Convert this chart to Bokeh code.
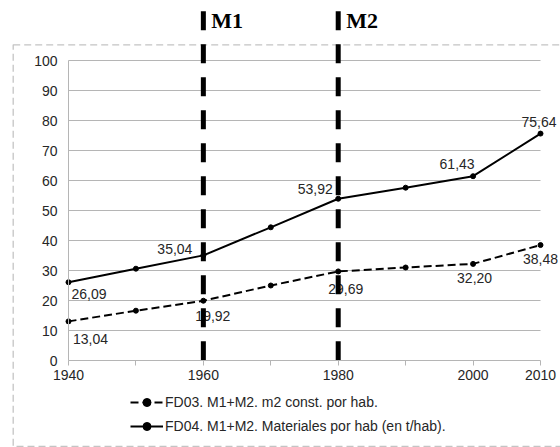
from bokeh.plotting import figure
from bokeh.models import Range1d, FixedTicker, ColumnDataSource, Legend, LegendItem
from bokeh.core.properties import value
from bokeh.embed import file_html
from bokeh.resources import INLINE

# ---------------- data ----------------
years = [1940, 1950, 1960, 1970, 1980, 1990, 2000, 2010]
fd03 = [13.04, 16.6, 19.92, 25.0, 29.69, 31.0, 32.20, 38.48]
fd04 = [26.09, 30.6, 35.04, 44.4, 53.92, 57.6, 61.43, 75.64]
fd03_name = "FD03. M1+M2. m2 const. por hab."
fd04_name = "FD04. M1+M2. Materiales por hab (en t/hab)."
x_tick_labels = ["1940", "", "1960", "", "1980", "", "2000", "2010"]
y_ticks = [0, 10, 20, 30, 40, 50, 60, 70, 80, 90, 100]
milestones = [1960, 1980]
milestone_names = ["M1", "M2"]
labeled_years = [1940, 1960, 1980, 2000, 2010]

# ---------------- geometry / style ----------------
W, H = 560, 447
# plot area (page px): x 68..540, y 60..360
sx = (540 - 68) / (years[-1] - years[0])
sy = (360 - 60) / (y_ticks[-1] - y_ticks[0])
x_start = years[0] - 68 / sx
x_end = x_start + W / sx
y_end = y_ticks[-1] + 60 / sy
y_start = y_end - H / sy


def px_x(page_x):
    return x_start + page_x / sx


def px_y(page_y):
    return y_end - page_y / sy


GRID = "#b5b5b5"
TXT = "#262626"
FONT = value("Liberation Sans")
FS = "14px"

p = figure(width=W, height=H, x_range=Range1d(x_start, x_end),
           y_range=Range1d(y_start, y_end), output_backend="svg",
           toolbar_location=None, min_border=0, min_border_left=0,
           min_border_right=0, min_border_top=0, min_border_bottom=0)
p.outline_line_color = None
p.xgrid.visible = False
p.ygrid.visible = False
p.background_fill_color = "white"
p.border_fill_color = "white"

# outer dashed frame
p.quad(left=[px_x(12.7)], right=[px_x(620)], top=[px_y(44.3)], bottom=[px_y(446)],
       fill_alpha=0, line_color="#c4c4c4", line_width=1.3, line_dash="7 4")

# axes placed at fixed data locations
xa = p.xaxis[0]
xa.fixed_location = y_ticks[0]
xa.bounds = (years[0], years[-1])
xa.ticker = FixedTicker(ticks=years)
xa.major_label_overrides = {yr: lab for yr, lab in zip(years, x_tick_labels)}
xa.minor_tick_line_color = None
xa.major_tick_in = 0
xa.major_tick_out = 5
xa.major_tick_line_color = GRID
xa.axis_line_color = GRID
xa.major_label_standoff = 4
xa.major_label_text_font = "Liberation Sans"
xa.major_label_text_font_size = FS
xa.major_label_text_color = TXT

ya = p.yaxis[0]
ya.fixed_location = years[0]
ya.bounds = (y_ticks[0], y_ticks[-1])
ya.ticker = FixedTicker(ticks=y_ticks)
ya.minor_tick_line_color = None
ya.major_tick_in = 0
ya.major_tick_out = 0
ya.axis_line_color = GRID
ya.major_label_standoff = 11
ya.major_label_text_font = "Liberation Sans"
ya.major_label_text_font_size = FS
ya.major_label_text_color = TXT

# horizontal gridlines
g = y_ticks[1:]
p.segment(x0=[years[0]] * len(g), x1=[years[-1]] * len(g), y0=g, y1=g,
          line_color=GRID, line_width=1)

# series
l3 = p.line(years, fd03, line_color="black", line_width=2, line_dash="8 4")
s3 = p.scatter(years, fd03, size=5, color="black")
l4 = p.line(years, fd04, line_color="black", line_width=2)
s4 = p.scatter(years, fd04, size=5, color="black")

# data labels
fmt = lambda v: f"{v:.2f}".replace(".", ",")
lab_x, lab_y, lab_t = [], [], []
for series in (fd04, fd03):
    for yr in labeled_years:
        v = series[years.index(yr)]
        lab_x.append(yr)
        lab_y.append(v)
        lab_t.append(fmt(v))
lab_dx = [20.5, -28.5, -23, -16, -1.5, 22, 9.5, 7.5, 1.5, 0]
lab_dy = [11.3, -6, -10, -12.7, -12, 17.6, 15, 18, 14, 13.5]
src = ColumnDataSource(dict(x=lab_x, y=lab_y, text=lab_t, dx=lab_dx, dy=lab_dy))
p.text(x="x", y="y", text="text", x_offset="dx", y_offset="dy", source=src,
       text_align="center", text_baseline="middle", text_font=FONT,
       text_font_size=FS, text_color=TXT)

# milestone lines and labels
p.segment(x0=milestones, x1=milestones, y0=[px_y(10.7)] * 2, y1=[px_y(372)] * 2,
          line_color="black", line_width=5, line_dash="19 14")
p.text(x=milestones, y=[px_y(20)] * 2, text=milestone_names, x_offset=8,
       text_align="left", text_baseline="middle",
       text_font=value("Liberation Serif"), text_font_style="bold",
       text_font_size="22px", text_color="black")

legend = Legend(items=[LegendItem(label=fd03_name, renderers=[l3, s3]),
                       LegendItem(label=fd04_name, renderers=[l4, s4])],
                location=(130, 11), orientation="vertical",
                border_line_color=None, background_fill_alpha=0,
                padding=0, margin=0, spacing=4, glyph_width=33,
                glyph_height=20, label_height=20, label_standoff=2,
                label_text_font="Liberation Sans", label_text_font_size=FS,
                label_text_color=TXT)
p.add_layout(legend)

open("out.html", "w").write(file_html(p, INLINE))
